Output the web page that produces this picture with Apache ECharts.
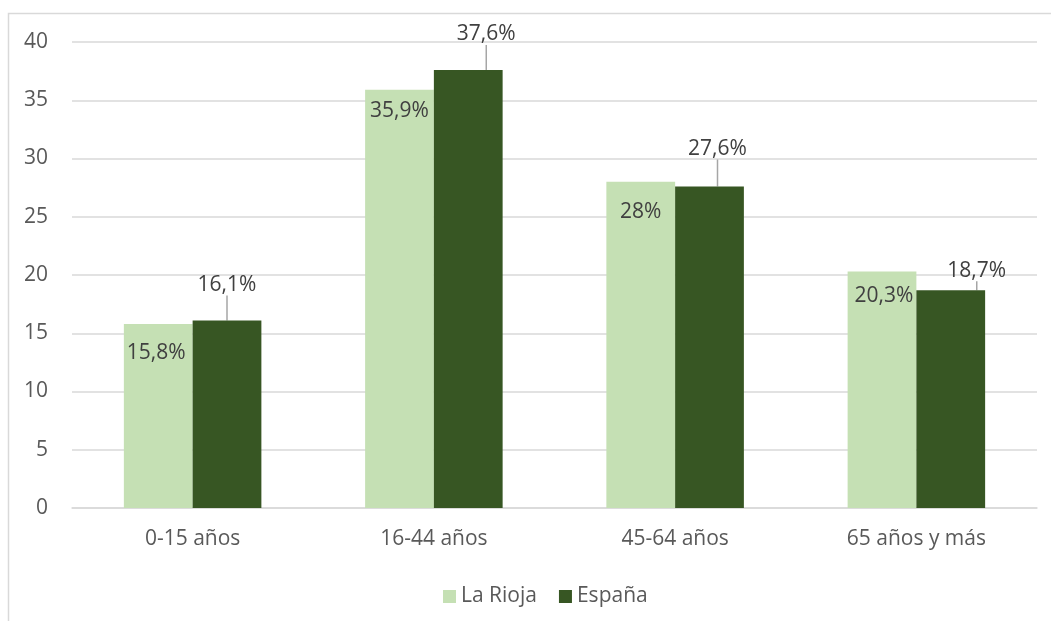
<!DOCTYPE html>
<html>
<head>
<meta charset="utf-8">
<title>Población por grupos de edad</title>
<script src="https://cdn.jsdelivr.net/npm/echarts@6/dist/echarts.min.js"></script>
<style>
  html, body { margin: 0; padding: 0; background: #fff; }
  #main { width: 1051px; height: 621px; }
</style>
</head>
<body>
<div id="main"></div>
<script>
// datos
const categorias = ['0-15 años', '16-44 años', '45-64 años', '65 años y más']
const laRioja = [15.8, 35.9, 28, 20.3]
const espana = [16.1, 37.6, 27.6, 18.7]

// desplazamiento de etiquetas (px)
const riojaDx = [-2, 0, 0, 2]
const riojaDy = [14, 6, 15, 9]
const espanaDx = [0, 18, 8, 26]
const espanaDy = [-20, -20, -22, -4]

const fuente = '"Open Sans", "DejaVu Sans", sans-serif'
const fmt = p => String(p.value).replace('.', ',') + '%'

const myChart = echarts.init(document.getElementById('main'))
const option = {
  animation: false,
  textStyle: { fontFamily: fuente },
  graphic: [{
    type: 'rect',
    shape: { x: 8.5, y: 13.5, width: 1200, height: 800 },
    style: { fill: 'none', stroke: '#d9d9d9', lineWidth: 1.5 },
    silent: true
  }],
  grid: { left: 72, right: 14, top: 42, bottom: 113 },
  legend: {
    left: 438,
    top: 581,
    itemWidth: 13,
    itemHeight: 13,
    itemGap: 22,
    icon: 'rect',
    textStyle: { fontSize: 21, color: '#595959', fontFamily: fuente },
    data: ['La Rioja', 'España']
  },
  xAxis: {
    type: 'category',
    data: categorias,
    axisTick: { show: false },
    axisLine: { lineStyle: { color: '#d9d9d9', width: 1.5 } },
    axisLabel: { margin: 21, fontSize: 21, color: '#595959', fontFamily: fuente }
  },
  yAxis: {
    type: 'value',
    min: 0,
    max: 40,
    interval: 5,
    axisLine: { show: false },
    axisTick: { show: false },
    axisLabel: { margin: 24, fontSize: 21, color: '#595959', fontFamily: fuente },
    splitLine: { lineStyle: { color: '#d9d9d9', width: 1.5 } }
  },
  series: [
    {
      name: 'La Rioja',
      type: 'bar',
      data: laRioja,
      barGap: '0%',
      barCategoryGap: '43%',
      itemStyle: { color: '#c5e0b4' },
      label: {
        show: true,
        position: 'insideTop',
        formatter: fmt,
        fontSize: 21,
        color: '#404040',
        fontFamily: fuente
      },
      labelLayout: p => ({ dx: riojaDx[p.dataIndex], dy: riojaDy[p.dataIndex] })
    },
    {
      name: 'España',
      type: 'bar',
      data: espana,
      itemStyle: { color: '#375623' },
      label: {
        show: true,
        position: 'top',
        formatter: fmt,
        fontSize: 21,
        color: '#404040',
        fontFamily: fuente
      },
      labelLine: { show: true, lineStyle: { color: '#a6a6a6', width: 1.5 } },
      labelLayout: p => ({ dx: espanaDx[p.dataIndex], dy: espanaDy[p.dataIndex] })
    }
  ]
}
myChart.setOption(option)
</script>
</body>
</html>
